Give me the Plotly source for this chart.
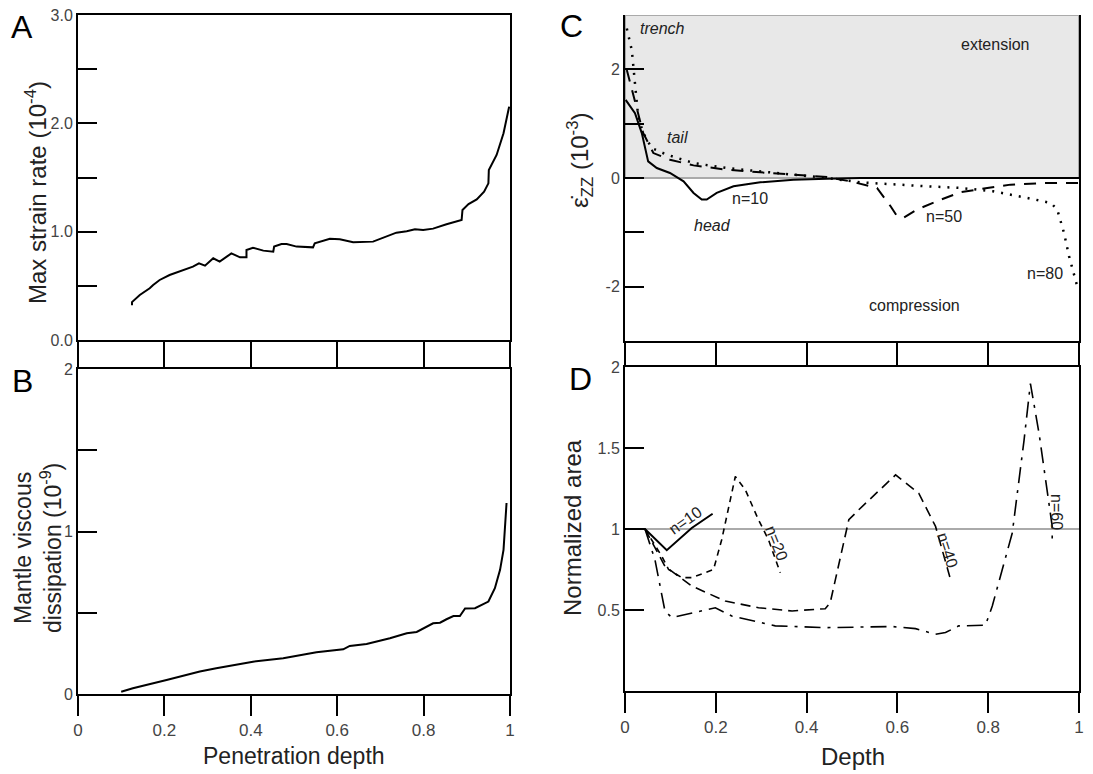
import plotly.graph_objs as go

# page is 1093x774; the html body has an 8px margin, so the figure is 8px smaller on each axis
W, H = 1085, 766
OFF = 8

# Panel A: max strain rate vs penetration depth
a_x = [0.125, 0.125, 0.143, 0.166, 0.174, 0.189, 0.212, 0.236, 0.259, 0.266, 0.280, 0.294, 0.313, 0.328,
       0.355, 0.375, 0.390, 0.390, 0.405, 0.429, 0.452, 0.454, 0.471, 0.483, 0.506, 0.544, 0.548, 0.583,
       0.606, 0.637, 0.683, 0.707, 0.737, 0.761, 0.780, 0.799, 0.822, 0.853, 0.888, 0.890, 0.904, 0.923,
       0.940, 0.950, 0.951, 0.969, 0.985, 0.998]
a_y = [0.32, 0.35, 0.415, 0.477, 0.508, 0.554, 0.600, 0.631, 0.662, 0.677, 0.708, 0.686, 0.754, 0.723,
       0.800, 0.763, 0.763, 0.831, 0.852, 0.825, 0.815, 0.862, 0.886, 0.886, 0.862, 0.855, 0.892, 0.935,
       0.929, 0.902, 0.908, 0.948, 0.991, 1.003, 1.022, 1.015, 1.028, 1.068, 1.108, 1.200, 1.255, 1.298,
       1.369, 1.446, 1.569, 1.708, 1.908, 2.154]

# Panel B: mantle viscous dissipation vs penetration depth
b_x = [0.100, 0.127, 0.205, 0.282, 0.320, 0.405, 0.475, 0.552, 0.614, 0.629, 0.668, 0.722, 0.761, 0.784,
       0.822, 0.838, 0.853, 0.869, 0.884, 0.896, 0.919, 0.950, 0.965, 0.977, 0.985, 0.988, 0.992]
b_y = [0.014, 0.035, 0.086, 0.138, 0.158, 0.199, 0.220, 0.257, 0.275, 0.296, 0.308, 0.343, 0.374, 0.382,
       0.435, 0.439, 0.460, 0.480, 0.480, 0.526, 0.528, 0.569, 0.651, 0.764, 0.887, 1.010, 1.175]

# Panel C: strain rate along slab
c10_x = [0.0015, 0.022, 0.037, 0.051, 0.070, 0.099, 0.129, 0.151, 0.169, 0.180, 0.202, 0.239, 0.298,
         0.371, 0.445, 0.518, 0.70, 1.0]
c10_y = [1.437, 1.193, 0.826, 0.306, 0.183, 0.092, -0.061, -0.275, -0.398, -0.398, -0.275, -0.153,
         -0.080, -0.031, -0.012, 0.0, 0.0, 0.0]
c50_x = [0.004, 0.026, 0.040, 0.0625, 0.099, 0.151, 0.224, 0.298, 0.371, 0.445, 0.496, 0.555, 0.585,
         0.599, 0.614, 0.643, 0.695, 0.739, 0.798, 0.849, 0.923, 1.0]
c50_y = [1.99, 1.31, 0.83, 0.459, 0.336, 0.232, 0.153, 0.104, 0.061, 0.018, -0.061, -0.183, -0.52,
         -0.70, -0.73, -0.58, -0.40, -0.263, -0.183, -0.122, -0.092, -0.092]
c80_x = [0.004, 0.015, 0.022, 0.029, 0.040, 0.059, 0.092, 0.151, 0.224, 0.298, 0.371, 0.445, 0.518,
         0.592, 0.665, 0.739, 0.811, 0.886, 0.938, 0.952, 0.967, 0.978, 0.989, 0.996]
c80_y = [2.75, 2.35, 1.74, 1.13, 0.83, 0.55, 0.43, 0.275, 0.183, 0.122, 0.061, 0.0, -0.08, -0.122,
         -0.153, -0.183, -0.245, -0.367, -0.459, -0.58, -1.01, -1.437, -1.80, -1.99]

# Panel D: normalized area vs depth
d10_x = [0.0, 0.044, 0.092, 0.147, 0.193]
d10_y = [1.0, 1.0, 0.869, 1.006, 1.094]
d20_x = [0.044, 0.081, 0.096, 0.125, 0.147, 0.195, 0.213, 0.243, 0.265, 0.294, 0.316, 0.342]
d20_y = [1.0, 0.832, 0.75, 0.70, 0.70, 0.75, 0.934, 1.324, 1.242, 1.057, 0.934, 0.730]
d40_x = [0.044, 0.088, 0.147, 0.221, 0.294, 0.368, 0.441, 0.452, 0.493, 0.515, 0.596, 0.647, 0.684, 0.717]
d40_y = [1.0, 0.77, 0.648, 0.555, 0.514, 0.494, 0.508, 0.545, 1.057, 1.119, 1.334, 1.221, 1.016, 0.689]
d60_x = [0.044, 0.066, 0.088, 0.103, 0.199, 0.235, 0.331, 0.441, 0.588, 0.640, 0.684, 0.706, 0.735,
         0.794, 0.809, 0.853, 0.879, 0.893, 0.912, 0.941, 0.941]
d60_y = [1.0, 0.81, 0.494, 0.453, 0.514, 0.463, 0.402, 0.391, 0.398, 0.385, 0.350, 0.361, 0.402,
         0.406, 0.525, 0.975, 1.549, 1.898, 1.59, 1.016, 0.924]

x_ticks = [0, 0.2, 0.4, 0.6, 0.8, 1]
x_labels = ['0', '0.2', '0.4', '0.6', '0.8', '1']
a_ticks = [0, 1, 2, 3]
a_labels = ['0.0', '1.0', '2.0', '3.0']
b_ticks = [0, 1, 2]
b_labels = ['0', '1', '2']
c_ticks = [-2, 0, 2]
c_labels = ['-2', '0', '2']
d_ticks = [0.5, 1, 1.5, 2]
d_labels = ['0.5', '1', '1.5', '2']

FONT = 'Liberation Sans, Arial, sans-serif'


def px(x):
    return (x - OFF) / W


def py(y):
    return 1 - (y - OFF) / H


blk = dict(color='black', width=2)
fig = go.Figure()
fig.add_trace(go.Scatter(x=a_x, y=a_y, mode='lines', line=blk, xaxis='x', yaxis='y'))
fig.add_trace(go.Scatter(x=b_x, y=b_y, mode='lines', line=blk, xaxis='x2', yaxis='y2'))
fig.add_trace(go.Scatter(x=c10_x, y=c10_y, mode='lines', line=blk, xaxis='x3', yaxis='y3'))
fig.add_trace(go.Scatter(x=c50_x, y=c50_y, mode='lines', xaxis='x3', yaxis='y3',
                         line=dict(color='black', width=2, dash='12px,9px')))
fig.add_trace(go.Scatter(x=c80_x, y=c80_y, mode='lines', xaxis='x3', yaxis='y3',
                         line=dict(color='black', width=2.5, dash='2px,7px')))
fig.add_trace(go.Scatter(x=d10_x, y=d10_y, mode='lines', line=blk, xaxis='x4', yaxis='y4'))
fig.add_trace(go.Scatter(x=d20_x, y=d20_y, mode='lines', xaxis='x4', yaxis='y4',
                         line=dict(color='black', width=1.6, dash='6px,5px')))
fig.add_trace(go.Scatter(x=d40_x, y=d40_y, mode='lines', xaxis='x4', yaxis='y4',
                         line=dict(color='black', width=1.6, dash='10px,6px')))
fig.add_trace(go.Scatter(x=d60_x, y=d60_y, mode='lines', xaxis='x4', yaxis='y4',
                         line=dict(color='black', width=1.6, dash='16px,7px,3px,7px')))

left_dom = [px(78), px(510)]
right_dom = [px(625), px(1079)]


def xax(dom, anchor, labels, mirror):
    return dict(domain=dom, anchor=anchor, range=[0, 1], showline=True, linecolor='black',
                linewidth=2, mirror=mirror, ticks='outside', ticklen=20, tickwidth=2,
                tickcolor='black', tickvals=x_ticks, ticktext=x_labels, showticklabels=labels,
                showgrid=False, zeroline=False, fixedrange=True, automargin=False,
                ticklabeloverflow='allow',
                tickfont=dict(family=FONT, size=17, color='#444'))


def yax(dom, anchor, rng, tv, tt, minor_step):
    d = dict(domain=dom, anchor=anchor, range=rng, showline=True, linecolor='black',
             linewidth=2, mirror=True, ticks='inside', ticklen=19, tickwidth=2,
             tickcolor='black', tickvals=tv, ticktext=tt, showgrid=False, zeroline=False,
             automargin=False, ticklabeloverflow='allow',
             tickfont=dict(family=FONT, size=16, color='#444'))
    if minor_step:
        d['minor'] = dict(dtick=minor_step, tick0=rng[0], ticks='inside', ticklen=19,
                          tickwidth=2, tickcolor='black', showgrid=False)
    return d


fig.update_layout(
    width=W, height=H, margin=dict(l=0, r=0, t=0, b=0), showlegend=False,
    plot_bgcolor='white', paper_bgcolor='white',
    xaxis=xax(left_dom, 'y', False, True),
    yaxis=yax([py(340), py(15)], 'x', [0, 3], a_ticks, a_labels, 0.5),
    xaxis2=xax(left_dom, 'y2', True, 'ticks'),
    yaxis2=yax([py(694), py(369)], 'x2', [0, 2], b_ticks, b_labels, 0.5),
    xaxis3=xax(right_dom, 'y3', False, False),
    yaxis3=yax([py(341), py(15)], 'x3', [-3, 3], c_ticks, c_labels, 1),
    xaxis4=xax(right_dom, 'y4', True, 'ticks'),
    yaxis4=yax([py(691), py(367)], 'x4', [0, 2], d_ticks, d_labels, None),
)

# extension band and reference lines
fig.add_shape(type='rect', xref='x3', yref='y3', x0=0, x1=1, y0=0, y1=3, layer='below',
              fillcolor='#e8e8e8', line=dict(color='#aaaaaa', width=2))
fig.add_shape(type='line', xref='x4', yref='y4', x0=0, x1=1, y0=1, y1=1, layer='below',
              line=dict(color='#aaaaaa', width=2))


def ann(x, y, text, size=16, angle=0, color='#222'):
    fig.add_annotation(x=px(x), y=py(y), xref='paper', yref='paper', text=text, showarrow=False,
                       textangle=angle, font=dict(family=FONT, size=size, color=color),
                       xanchor='center', yanchor='middle')


for letter, lx, ly in [('A', 22, 27), ('B', 22, 381), ('C', 572, 26), ('D', 580, 379)]:
    ann(lx, ly, letter, size=32, color='black')

ann(36, 193, 'Max strain rate (10<sup>-4</sup>)', size=24, angle=-90)
ann(38, 548, 'Mantle viscous<br>dissipation (10<sup>-9</sup>)', size=23, angle=-90)
ann(580, 160, 'ε̇<sub>ZZ</sub> (10<sup>-3</sup>)', size=24, angle=-90)
ann(572, 527, 'Normalized area', size=24, angle=-90)
ann(294, 756, 'Penetration depth', size=23)
ann(853, 756, 'Depth', size=24)

ann(662, 28, '<i>trench</i>')
ann(995, 44, 'extension')
ann(677, 138, '<i>tail</i>')
ann(750, 199, 'n=10')
ann(712, 226, '<i>head</i>')
ann(944, 217, 'n=50')
ann(1045, 273, 'n=80')
ann(914, 305, 'compression')

ann(685, 520, 'n=10', angle=-35)
ann(777, 543, 'n=20', angle=68)
ann(948, 550, 'n=40', angle=72)
ann(1056, 512, 'n=60', angle=90)

fig.write_html("out.html")
